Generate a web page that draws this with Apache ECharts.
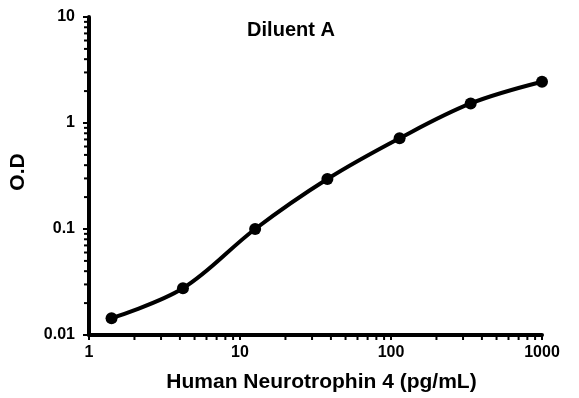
<!DOCTYPE html>
<html>
<head>
<meta charset="utf-8">
<script src="https://cdn.jsdelivr.net/npm/echarts@6/dist/echarts.min.js"></script>
<style>
  html, body { margin: 0; padding: 0; background: #fff; }
  #chart { width: 579px; height: 398px; }
</style>
</head>
<body>
<div id="chart"></div>
<script>
const concentration = [1.41, 4.19, 12.6, 37.9, 114, 337, 1000]
const od = [0.0144, 0.0276, 0.1, 0.296, 0.718, 1.53, 2.45]
const xMinorTicks = [2, 3, 4, 5, 6, 7, 8, 9, 20, 30, 40, 50, 60, 70, 80, 90, 200, 300, 400, 500, 600, 700, 800, 900]
const yMinorTicks = [0.02, 0.03, 0.04, 0.05, 0.06, 0.07, 0.08, 0.09, 0.2, 0.3, 0.4, 0.5, 0.6, 0.7, 0.8, 0.9, 2, 3, 4, 5, 6, 7, 8, 9]

const chart = echarts.init(document.getElementById('chart'))
const font = 'Liberation Sans, Arial, sans-serif'

const points = concentration.map((c, i) => [c, od[i]])

// log-spaced minor ticks, placed through the axis scales
function minorTick (axis) {
  return function (params, api) {
    const v = api.value(0)
    const p = axis === 'x' ? api.coord([v, 0.01]) : api.coord([1, v])
    const shape = axis === 'x'
      ? { x1: p[0], y1: p[1], x2: p[0], y2: p[1] + 5 }
      : { x1: p[0], y1: p[1], x2: p[0] - 5, y2: p[1] }
    return { type: 'line', shape: shape, style: { stroke: '#000', lineWidth: 2 } }
  }
}

const options = {
  animation: false,
  title: {
    text: 'Diluent A',
    left: 286,
    top: 15,
    textAlign: 'center',
    textStyle: { fontFamily: font, fontSize: 20, fontWeight: 'bold', color: '#000' }
  },
  grid: { left: 85, right: 37, top: 17, bottom: 60 },
  xAxis: {
    type: 'log',
    logBase: 10,
    min: 1,
    max: 1000,
    name: 'Human Neurotrophin 4 (pg/mL)',
    nameLocation: 'middle',
    nameGap: 37,
    nameTextStyle: {
      fontFamily: font, fontSize: 21, fontWeight: 'bold', color: '#000',
      padding: [0, 0, 0, 12]
    },
    axisLine: { lineStyle: { color: '#000', width: 4 } },
    axisTick: { show: true, length: 5, lineStyle: { color: '#000', width: 2 } },
    axisLabel: {
      fontFamily: font, fontSize: 16, fontWeight: 'bold', color: '#000', margin: 10,
      formatter: v => String(v)
    },
    splitLine: { show: false }
  },
  yAxis: {
    type: 'log',
    logBase: 10,
    min: 0.01,
    max: 10,
    name: 'O.D',
    nameLocation: 'middle',
    nameGap: 60,
    nameTextStyle: {
      fontFamily: font, fontSize: 21, fontWeight: 'bold', color: '#000',
      padding: [0, 0, 0, 8]
    },
    axisLine: { lineStyle: { color: '#000', width: 4 } },
    axisTick: { show: true, length: 6, lineStyle: { color: '#000', width: 2 } },
    axisLabel: {
      fontFamily: font, fontSize: 16, fontWeight: 'bold', color: '#000', margin: 14,
      formatter: v => String(v)
    },
    splitLine: { show: false }
  },
  series: [
    {
      type: 'line',
      data: points,
      smooth: 0.35,
      symbol: 'circle',
      symbolSize: 12,
      lineStyle: { color: '#000', width: 4 },
      itemStyle: { color: '#000' }
    },
    {
      type: 'custom',
      clip: false,
      silent: true,
      z: 1,
      data: xMinorTicks.map(v => [v]),
      renderItem: minorTick('x')
    },
    {
      type: 'custom',
      clip: false,
      silent: true,
      z: 1,
      data: yMinorTicks.map(v => [v]),
      renderItem: minorTick('y')
    }
  ]
}
chart.setOption(options)
</script>
</body>
</html>
